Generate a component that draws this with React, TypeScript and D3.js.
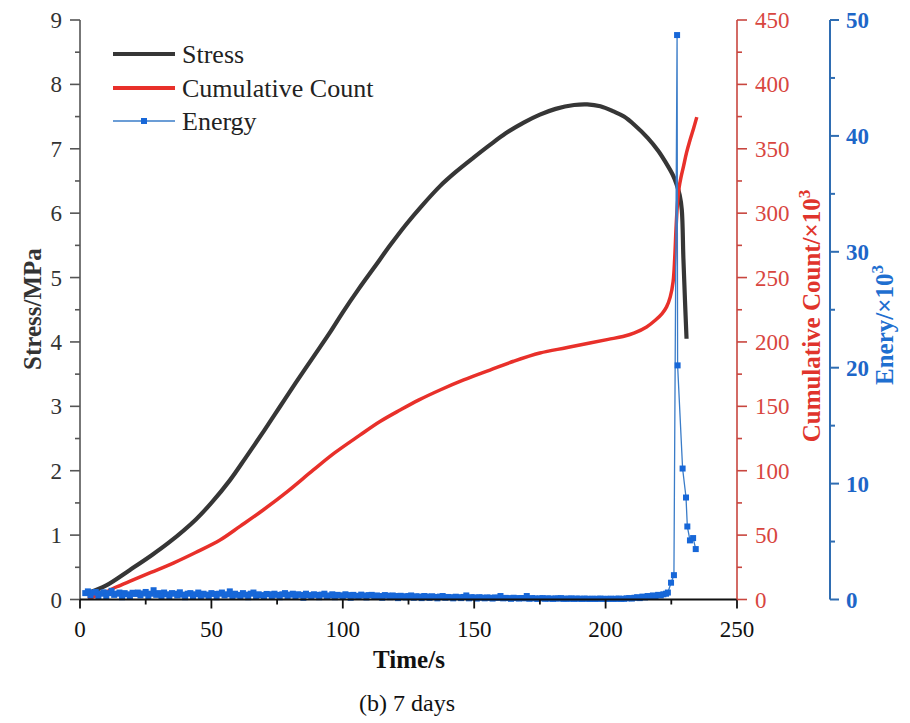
import React from "react";
import * as d3 from "d3";

const stressData: [number, number][] = [
  [3, 0.1], [10, 0.22], [19, 0.46], [27, 0.68], [34, 0.89], [44, 1.24], [50, 1.5], [57, 1.85],
  [63, 2.2], [70, 2.62], [76, 2.99], [82, 3.36], [89, 3.78], [95, 4.14], [100, 4.46], [106, 4.82],
  [112, 5.16], [118, 5.5], [124, 5.82], [130, 6.11], [137, 6.42], [143, 6.64], [150, 6.87],
  [156, 7.06], [162, 7.24], [169, 7.41], [175, 7.53], [181, 7.62], [188, 7.68], [193, 7.69],
  [198, 7.66], [203, 7.58], [207, 7.5], [211, 7.37], [216, 7.17], [220, 6.97], [223, 6.78],
  [225.5, 6.6], [227, 6.45], [228.2, 6.28], [229, 6.05], [229.6, 5.3], [230.2, 4.65], [230.8, 4.05],
];

const countData: [number, number][] = [
  [3, 1], [8, 4], [14, 9.9], [20, 15], [27, 21], [35.5, 28.3], [44, 36.5], [53.3, 46.2],
  [61, 57], [69.7, 69.5], [79, 84], [88.8, 100.6], [97, 114], [106.5, 127.6], [114, 138],
  [121.8, 147.1], [129, 155], [137, 162.7], [146, 170.5], [156, 178.2], [165, 185], [175, 191.4],
  [185, 195.5], [194, 199.2], [201, 202], [206.6, 204.2], [211, 207], [215.6, 211.6], [219, 217],
  [221.5, 222], [223.2, 227.2], [224.6, 235], [225.7, 247], [226.3, 265], [226.8, 288],
  [227.3, 306], [227.9, 319], [228.7, 328], [229.6, 336], [230.8, 347], [232.1, 356.7],
  [233.5, 366], [234.7, 374.6],
];

// Energy baseline, sampled every 1 s from t = 2 s
const energyBaseStart = 2;
const energyBase: number[] = [
  0.55, 0.7, 0.35, 0.6, 0.65, 0.25, 0.5, 0.62, 0.3, 0.55,
  0.75, 0.4, 0.5, 0.6, 0.2, 0.55, 0.45, 0.3, 0.58, 0.48,
  0.6, 0.35, 0.52, 0.65, 0.28, 0.5, 0.8, 0.4, 0.55, 0.3,
  0.6, 0.45, 0.25, 0.55, 0.5, 0.35, 0.62, 0.42, 0.2, 0.5,
  0.55, 0.3, 0.45, 0.6, 0.25, 0.5, 0.42, 0.3, 0.55, 0.48,
  0.2, 0.5, 0.6, 0.35, 0.45, 0.7, 0.3, 0.5, 0.4, 0.25,
  0.55, 0.42, 0.2, 0.5, 0.6, 0.3, 0.45, 0.38, 0.22, 0.48,
  0.45, 0.3, 0.5, 0.4, 0.2, 0.45, 0.55, 0.25, 0.42, 0.5,
  0.3, 0.45, 0.4, 0.15, 0.5, 0.38, 0.28, 0.45, 0.4, 0.2,
  0.42, 0.5, 0.3, 0.35, 0.45, 0.2, 0.4, 0.36, 0.25, 0.45,
  0.38, 0.15, 0.4, 0.32, 0.25, 0.42, 0.35, 0.18, 0.38, 0.4,
  0.22, 0.35, 0.3, 0.15, 0.38, 0.33, 0.2, 0.35, 0.3, 0.12,
  0.32, 0.28, 0.18, 0.3, 0.35, 0.15, 0.28, 0.25, 0.12, 0.3,
  0.26, 0.14, 0.28, 0.22, 0.1, 0.25, 0.3, 0.15, 0.22, 0.2,
  0.1, 0.24, 0.2, 0.12, 0.22, 0.35, 0.1, 0.2, 0.18, 0.08,
  0.2, 0.16, 0.1, 0.18, 0.15, 0.08, 0.18, 0.14, 0.3, 0.1,
  0.14, 0.12, 0.06, 0.15, 0.12, 0.08, 0.13, 0.1, 0.3, 0.06,
  0.12, 0.1, 0.05, 0.1, 0.12, 0.06, 0.1, 0.08, 0.05, 0.1,
  0.08, 0.12, 0.05, 0.08, 0.06, 0.1, 0.05, 0.08, 0.07, 0.05,
  0.08, 0.06, 0.05, 0.07, 0.05, 0.06, 0.08, 0.05, 0.06, 0.05,
  0.07, 0.05, 0.06, 0.08, 0.05, 0.06, 0.1, 0.12, 0.08, 0.15,
  0.2, 0.12, 0.25, 0.18, 0.3, 0.22, 0.35, 0.28, 0.4, 0.35,
];
// Energy burst near failure
const energyBurst: [number, number][] = [
  [222, 0.45], [223, 0.5], [223.7, 0.6], [224.9, 1.45], [226.0, 2.1], [227.2, 48.7], [227.4, 20.2],
  [229.3, 11.3], [230.6, 8.8], [231.1, 6.3], [232.1, 5.1], [233.3, 5.3], [234.3, 4.35],
];

const stressTicks = [0, 1, 2, 3, 4, 5, 6, 7, 8, 9];
const timeTicks = [0, 50, 100, 150, 200, 250];
const countTicks = [0, 50, 100, 150, 200, 250, 300, 350, 400, 450];
const energyTicks = [0, 10, 20, 30, 40, 50];

const FONT = "'Liberation Serif', 'Times New Roman', serif";

export default function App() {
  const W = 910, H = 723;
  const x = d3.scaleLinear().domain([0, 250]).range([80, 737]);
  const yS = d3.scaleLinear().domain([0, 9]).range([599.5, 20]);
  const yC = d3.scaleLinear().domain([0, 450]).range([599.5, 20]);
  const yE = d3.scaleLinear().domain([0, 50]).range([599.5, 20]);

  const energyData: [number, number][] = [
    ...energyBase.map((v, i) => [energyBaseStart + i, v] as [number, number]),
    ...energyBurst,
  ];

  const stressLine = d3.line<[number, number]>().x(d => x(d[0])).y(d => yS(d[1])).curve(d3.curveCatmullRom.alpha(0.5));
  const countLine = d3.line<[number, number]>().x(d => x(d[0])).y(d => yC(d[1])).curve(d3.curveCatmullRom.alpha(0.5));
  const energyLine = d3.line<[number, number]>().x(d => x(d[0])).y(d => yE(d[1]));

  const yBase = 599.5;
  const redAxis = "#c8463f";
  const redText = "#d8463f";
  const blueAxis = "#2f6db2";
  const blueText = "#1d66c8";

  const minorS = d3.range(0.5, 9, 1);
  const minorT = d3.range(25, 250, 50);
  const minorC = d3.range(25, 450, 50);
  const minorE = d3.range(5, 50, 10);

  return (
    <svg width={W} height={H} style={{ position: "absolute", left: 0, top: 0, background: "#fff" }} fontFamily={FONT}>
      <rect x={0} y={0} width={W} height={H} fill="#fff" />
      {/* Data */}
      <path d={stressLine(stressData) || ""} fill="none" stroke="#363636" strokeWidth={4.2} />
      <path d={countLine(countData) || ""} fill="none" stroke="#e8302a" strokeWidth={3.5} />
      <path d={energyLine(energyData) || ""} fill="none" stroke="#3a7cc8" strokeWidth={1.3} />
      {energyData.map((d, i) => (
        <rect key={i} x={x(d[0]) - 3} y={yE(d[1]) - 3} width={6} height={6} fill="#1767d8" />
      ))}

      {/* Left axis */}
      <line x1={80} x2={80} y1={yS(9)} y2={yBase} stroke="#555" strokeWidth={1.6} />
      {stressTicks.map(t => (
        <g key={t}>
          <line x1={70} x2={80} y1={yS(t)} y2={yS(t)} stroke="#555" strokeWidth={1.6} />
          <text x={62} y={yS(t)} dy="0.35em" textAnchor="end" fontSize={23} fill="#333">{t}</text>
        </g>
      ))}
      {minorS.map(t => (
        <line key={t} x1={75} x2={80} y1={yS(t)} y2={yS(t)} stroke="#555" strokeWidth={1.6} />
      ))}

      {/* Bottom axis */}
      <line x1={80} x2={737} y1={yBase} y2={yBase} stroke="#111" strokeWidth={1.8} />
      {timeTicks.map(t => (
        <g key={t}>
          <line x1={x(t)} x2={x(t)} y1={yBase} y2={yBase + 9} stroke="#111" strokeWidth={1.8} />
          <text x={x(t)} y={637} textAnchor="middle" fontSize={23} fill="#111">{t}</text>
        </g>
      ))}
      {minorT.map(t => (
        <line key={t} x1={x(t)} x2={x(t)} y1={yBase} y2={yBase + 5} stroke="#111" strokeWidth={1.8} />
      ))}

      {/* Red right axis */}
      <line x1={737} x2={737} y1={yC(450)} y2={yBase} stroke={redAxis} strokeWidth={1.6} />
      {countTicks.map(t => (
        <g key={t}>
          <line x1={737} x2={747} y1={yC(t)} y2={yC(t)} stroke={redAxis} strokeWidth={1.6} />
          <text x={755} y={yC(t)} dy="0.35em" textAnchor="start" fontSize={23} fill={redText}>{t}</text>
        </g>
      ))}
      {minorC.map(t => (
        <line key={t} x1={737} x2={742} y1={yC(t)} y2={yC(t)} stroke={redAxis} strokeWidth={1.6} />
      ))}

      {/* Blue right axis */}
      <line x1={830} x2={830} y1={yE(50)} y2={yBase} stroke={blueAxis} strokeWidth={2} />
      {energyTicks.map(t => (
        <g key={t}>
          <line x1={830} x2={839} y1={yE(t)} y2={yE(t)} stroke={blueAxis} strokeWidth={2} />
          <text x={846} y={yE(t)} dy="0.35em" textAnchor="start" fontSize={23} fontWeight="bold" fill={blueText}>{t}</text>
        </g>
      ))}
      {minorE.map(t => (
        <line key={t} x1={830} x2={835} y1={yE(t)} y2={yE(t)} stroke={blueAxis} strokeWidth={2} />
      ))}

      {/* Axis titles */}
      <text transform="translate(32,309) rotate(-90)" textAnchor="middle" dy="0.35em" fontSize={25} fontWeight="bold" fill="#333">Stress/MPa</text>
      <text x={409} y={668} textAnchor="middle" fontSize={25} fontWeight="bold" fill="#111">Time/s</text>
      <text x={407} y={711} textAnchor="middle" fontSize={24} fill="#111">(b) 7 days</text>
      <text transform="translate(811,316) rotate(-90)" textAnchor="middle" dy="0.35em" fontSize={25} fontWeight="bold" fill="#e0342c">
        Cumulative Count/×10<tspan dy="-0.55em" fontSize={17}>3</tspan>
      </text>
      <text transform="translate(884,325) rotate(-90)" textAnchor="middle" dy="0.35em" fontSize={25} fontWeight="bold" fill="#1f6fd0">
        Enery/×10<tspan dy="-0.55em" fontSize={17}>3</tspan>
      </text>

      {/* Legend */}
      <line x1={113} x2={175} y1={54} y2={54} stroke="#363636" strokeWidth={4} />
      <text x={182} y={63} fontSize={26} fill="#222">Stress</text>
      <line x1={113} x2={175} y1={88} y2={88} stroke="#e8302a" strokeWidth={4} />
      <text x={182} y={97} fontSize={26} fill="#222">Cumulative Count</text>
      <line x1={113} x2={175} y1={121} y2={121} stroke="#3a7cc8" strokeWidth={1.3} />
      <rect x={141} y={118} width={6} height={6} fill="#1767d8" />
      <text x={182} y={130} fontSize={26} fill="#222">Energy</text>
    </svg>
  );
}
